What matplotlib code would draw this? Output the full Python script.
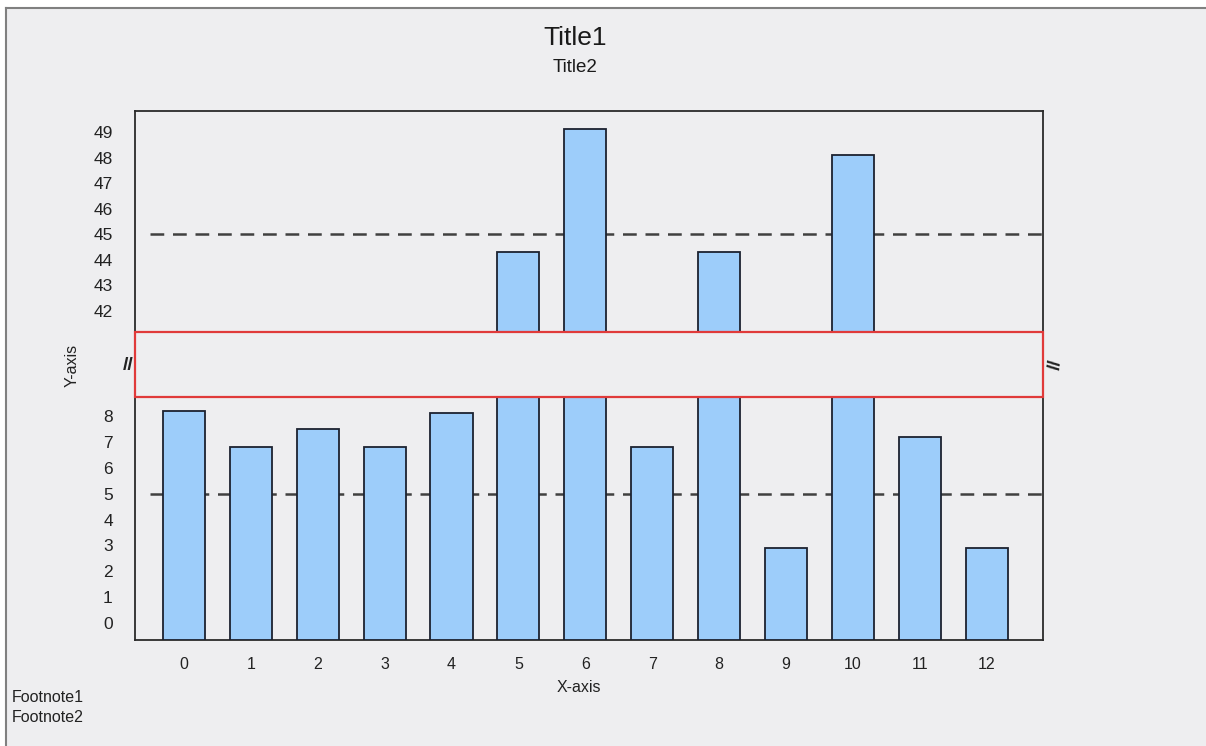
import matplotlib.pyplot as plt
from matplotlib.patches import Rectangle
from matplotlib.lines import Line2D

categories = list(range(13))
values = [8.2, 6.8, 7.5, 6.8, 8.1, 44.3, 49.1, 6.8, 44.3, 2.9, 48.1, 7.2, 2.9]
lower_ticks = [0, 1, 2, 3, 4, 5, 6, 7, 8]
upper_ticks = [42, 43, 44, 45, 46, 47, 48, 49]
lower_ref = 5
upper_ref = 45

plt.rcParams['font.family'] = ['Liberation Sans', 'DejaVu Sans']
plt.rcParams['font.size'] = 12

fig = plt.figure(figsize=(12.06, 7.46), dpi=100)
fig.patch.set_facecolor('white')

# background panel with grey top/left edge
bg = Rectangle((6 / 1206, 0), 1.0, 1 - 8 / 746, transform=fig.transFigure,
               facecolor='#eeeef0', edgecolor='none', zorder=-10)
fig.patches.append(bg)
fig.lines.append(Line2D([6 / 1206, 1], [1 - 8 / 746] * 2, transform=fig.transFigure,
                        color='#808080', lw=1.5, zorder=-5))
fig.lines.append(Line2D([6 / 1206] * 2, [0, 1 - 8 / 746], transform=fig.transFigure,
                        color='#808080', lw=1.5, zorder=-5))

left, width = 135 / 1206, (1043 - 135) / 1206
ax_up = fig.add_axes([left, 1 - 332 / 746, width, (332 - 111) / 746])
ax_lo = fig.add_axes([left, 1 - 640 / 746, width, (640 - 397) / 746])

xlim = (-0.73, 12.84)
ylims = {ax_up: (41.18, 49.82), ax_lo: (-0.65, 8.73)}

for ax, ticks, ref in [(ax_up, upper_ticks, upper_ref), (ax_lo, lower_ticks, lower_ref)]:
    lo, hi = ylims[ax]
    ax.set_facecolor('none')
    ax.bar(categories, [v - lo for v in values], bottom=lo, width=0.63,
           color='#9dcdfa', edgecolor='#1c2230', linewidth=1.3, zorder=3)
    ax.hlines(ref, -0.5, 12.9, colors='#404040', linestyles=(0, (5.5, 3.5)),
              linewidth=1.8, zorder=2, clip_on=False)
    ax.set_xlim(*xlim)
    ax.set_ylim(lo, hi)
    ax.set_yticks(ticks)
    ax.tick_params(axis='y', length=0, pad=16, labelsize=12.5, colors='#222222')
    for s in ax.spines.values():
        s.set_color('#2a2a2a')
        s.set_linewidth(1.3)

ax_up.spines['bottom'].set_visible(False)
ax_up.set_xticks([])
ax_lo.spines['top'].set_visible(False)
ax_lo.set_xticks(categories)
ax_lo.tick_params(axis='x', length=0, pad=12, labelsize=11.5, colors='#222222')

# break band
band = Rectangle((left, 1 - 397 / 746), width, (397 - 332) / 746, transform=fig.transFigure,
                 facecolor='none', edgecolor='#e03a3a', linewidth=1.6, zorder=5)
fig.patches.append(band)
fig.text(128 / 1206, 1 - 366 / 746, '//', ha='center', va='center', fontsize=14,
         fontweight='bold', color='#222222')
fig.text(1050 / 1206, 1 - 365 / 746, '//', ha='center', va='center', fontsize=14,
         fontweight='bold', rotation=-95, color='#222222')

fig.text(575 / 1206, 1 - 38 / 746, 'Title1', ha='center', va='center', fontsize=19, color='#1a1a1a')
fig.text(575 / 1206, 1 - 68 / 746, 'Title2', ha='center', va='center', fontsize=13.5, color='#1a1a1a')
fig.text(579 / 1206, 1 - 688 / 746, 'X-axis', ha='center', va='center', fontsize=11.5, color='#222222')
fig.text(72 / 1206, 1 - 365 / 746, 'Y-axis', ha='center', va='center', fontsize=11.5,
         rotation=90, color='#222222')
fig.text(12 / 1206, 1 - 698 / 746, 'Footnote1', ha='left', va='center', fontsize=11.5, color='#222222')
fig.text(12 / 1206, 1 - 718 / 746, 'Footnote2', ha='left', va='center', fontsize=11.5, color='#222222')

plt.savefig('out.png', dpi=100)
